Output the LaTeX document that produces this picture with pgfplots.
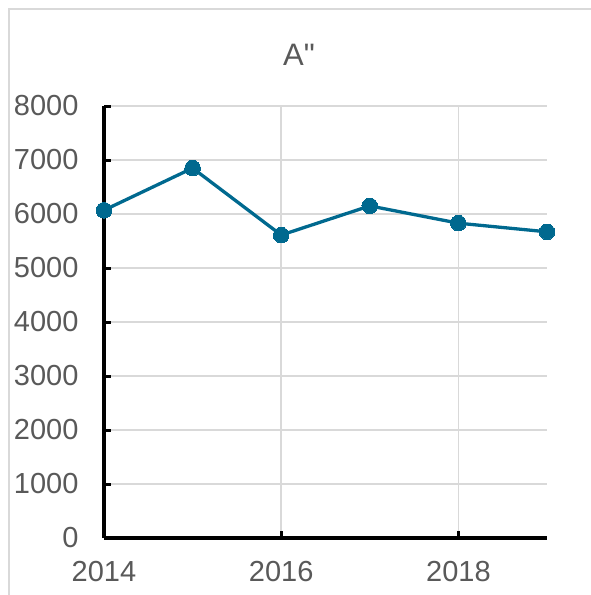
\documentclass[border=0pt]{standalone}
\usepackage{fontspec}
\setmainfont{Liberation Sans}
\newfontfamily\titlefont{Liberation Sans}
\usepackage{pgfplots}
\pgfplotsset{compat=1.18}
\definecolor{serie}{HTML}{00698F}
\definecolor{gridc}{HTML}{D9D9D9}
\definecolor{labc}{HTML}{595959}
\begin{document}
\begin{tikzpicture}[x=1pt,y=1pt]
  \path[use as bounding box] (0,0) rectangle (591,595);
  % outer frame, only left and top edges visible
  \draw[gridc, line width=1.5pt] (9,0) -- (9,586) -- (591,586);
  \node[labc, font=\titlefont\fontsize{31}{36}\selectfont] at (299,540) {A"};
  \begin{axis}[
    at={(104pt,57pt)}, anchor=origin,
    scale only axis,
    width=443pt, height=432pt,
    xmin=2014, xmax=2019,
    ymin=0, ymax=8000,
    xtick={2014,2016,2018},
    ytick={0,1000,...,8000},
    axis lines*=left,
    axis line style={black, line width=3.5pt, -},
    tick align=inside,
    major tick length=7pt,
    tick style={black, line width=3pt},
    xmajorgrids, ymajorgrids,
    grid style={gridc, line width=1.5pt},
    /pgf/number format/1000 sep={},
    /pgf/number format/assume math mode=true,
    tick label style={labc, font=\fontsize{29}{34}\selectfont},
    yticklabel shift=22pt,
    xticklabel shift=20pt,
    clip=false,
  ]
    \addplot[serie, line width=3.3pt, mark=*, mark size=7.8pt,
      mark options={fill=serie, draw=serie, line width=0pt}]
      coordinates {(2014,6070) (2015,6850) (2016,5610) (2017,6150) (2018,5830) (2019,5670)};
  \end{axis}
\end{tikzpicture}
\end{document}
